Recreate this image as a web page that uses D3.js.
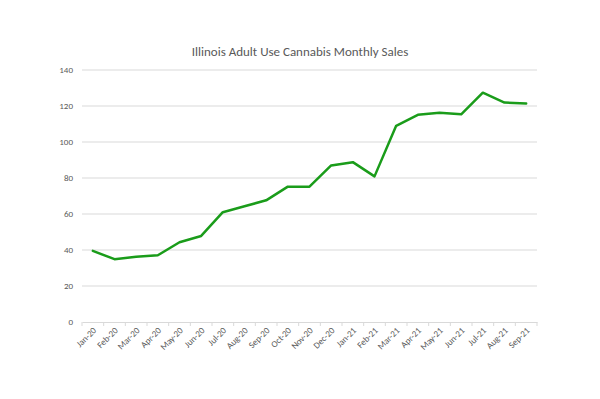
<!DOCTYPE html>
<html><head><meta charset="utf-8">
<script src="https://cdn.jsdelivr.net/npm/d3@7"></script>
<style>body{margin:0;background:#fff}svg{display:block}</style>
</head><body>
<script>
const months = ["Jan-20","Feb-20","Mar-20","Apr-20","May-20","Jun-20","Jul-20","Aug-20","Sep-20","Oct-20","Nov-20","Dec-20","Jan-21","Feb-21","Mar-21","Apr-21","May-21","Jun-21","Jul-21","Aug-21","Sep-21"];
const sales = [39.5,34.9,36.2,37.1,44.3,47.8,61.0,64.3,67.6,75.2,75.2,87.0,88.8,80.9,109.0,115.1,116.2,115.4,127.4,121.9,121.4];
const yTicks = [0,20,40,60,80,100,120,140];
const title = "Illinois Adult Use Cannabis Monthly Sales";

const W=600,H=399;
const m={left:82,right:63,top:70,bottom:77};
const svg=d3.select("body").append("svg").attr("width",W).attr("height",H);
const x=d3.scaleBand().domain(months).range([m.left,W-m.right]);
const y=d3.scaleLinear().domain([0,140]).range([H-m.bottom,m.top]);
const font="Carlito, 'Liberation Sans', Arial, sans-serif";

svg.append("text").attr("x",300).attr("y",56).attr("text-anchor","middle")
  .attr("font-family",font).attr("font-size",13).attr("fill","#595959").text(title);

const g=svg.append("g");
g.selectAll("line.grid").data(yTicks.filter(d=>d>0)).join("line")
  .attr("x1",m.left).attr("x2",W-m.right).attr("y1",d=>y(d)).attr("y2",d=>y(d))
  .attr("stroke","#d9d9d9").attr("stroke-width",1);

const ya=svg.append("g").attr("transform",`translate(${m.left},0)`)
  .call(d3.axisLeft(y).tickValues(yTicks).tickSize(0).tickPadding(9));
ya.select(".domain").remove();
ya.selectAll("text").attr("font-family",font).attr("font-size",9).attr("fill","#595959");

const xa=svg.append("g").attr("transform",`translate(0,${y(0)})`)
  .call(d3.axisBottom(x).tickSize(0).tickPadding(0));
xa.select(".domain").attr("stroke","#d9d9d9");
xa.selectAll("text").attr("font-family",font).attr("font-size",9).attr("fill","#595959")
  .attr("text-anchor","end").attr("dy",0)
  .attr("transform","translate(4,9) rotate(-45)");
xa.selectAll("line.bt").data(months.concat([null])).join("line").attr("class","bt")
  .attr("x1",(d,i)=>m.left+i*x.step()).attr("x2",(d,i)=>m.left+i*x.step())
  .attr("y1",0).attr("y2",4).attr("stroke","#d9d9d9");

const line=d3.line().x((d,i)=>x(months[i])+x.bandwidth()/2).y(d=>y(d));
svg.append("path").datum(sales).attr("d",line).attr("fill","none")
  .attr("stroke","#1a9c1a").attr("stroke-width",2.5).attr("stroke-linejoin","round").attr("stroke-linecap","round");
</script>
</body></html>
